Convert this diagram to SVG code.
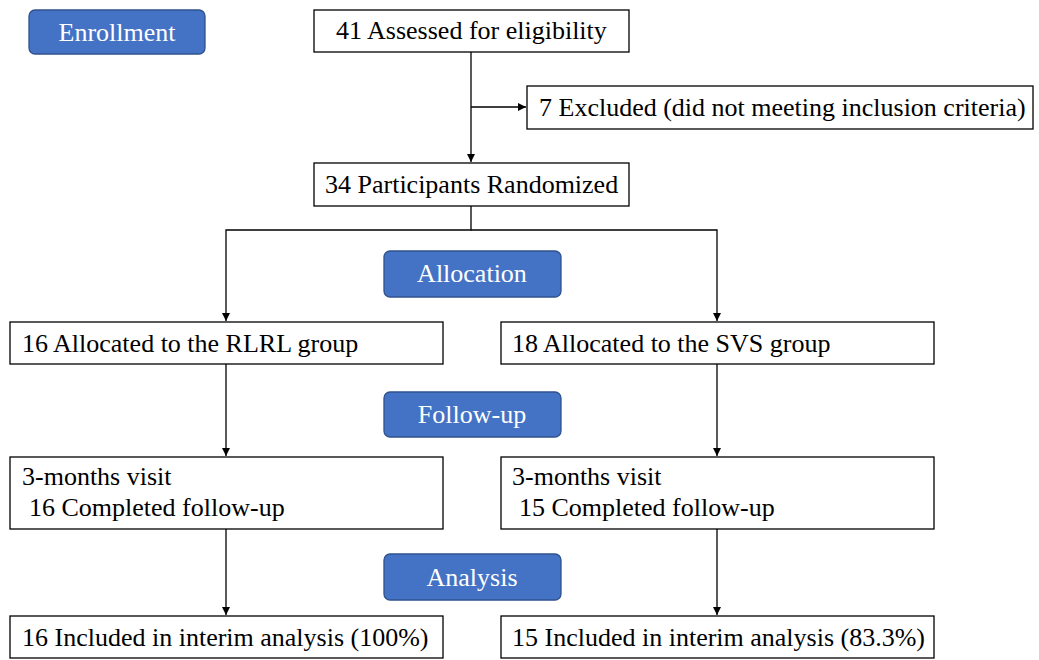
<svg xmlns="http://www.w3.org/2000/svg" width="1039" height="660" viewBox="0 0 1039 660">
<defs>
<marker id="arr" viewBox="0 0 10 10" refX="10" refY="5" markerWidth="8" markerHeight="8" markerUnits="userSpaceOnUse" orient="auto">
<path d="M0,0 L10,5 L0,10 z" fill="#000"/>
</marker>
<style>
.box{fill:#fff;stroke:#000;stroke-width:1.3}
.lab{fill:#4472C4;stroke:#2F528F;stroke-width:1.3}
.t{font-family:'Liberation Serif','Times New Roman',serif;font-size:26px;fill:#000}
.w{font-family:'Liberation Serif','Times New Roman',serif;font-size:26px;fill:#fff;text-anchor:middle}
.c{fill:none;stroke:#000;stroke-width:1.3}
</style>
</defs>
<rect width="1039" height="660" fill="#fff"/>
<g id="connectors">
<path class="c" d="M471,52 V162" marker-end="url(#arr)"/>
<path class="c" d="M471,107 H526" marker-end="url(#arr)"/>
<path class="c" d="M471,206 V230 H226 V321"  marker-end="url(#arr)"/>
<path class="c" d="M471,230 H717 V321" marker-end="url(#arr)"/>
<path class="c" d="M226,364 V456" marker-end="url(#arr)"/>
<path class="c" d="M717,364 V456" marker-end="url(#arr)"/>
<path class="c" d="M226,529 V615" marker-end="url(#arr)"/>
<path class="c" d="M717,529 V615" marker-end="url(#arr)"/>
</g>
<g id="enrollment"><rect class="lab" x="29" y="10" width="176" height="44" rx="6"/><text class="w" x="117" y="41">Enrollment</text></g>
<g id="assessed"><rect class="box" x="314" y="10" width="315" height="42"/><text class="t" x="336" y="39">41 Assessed for eligibility</text></g>
<g id="excluded"><rect class="box" x="527" y="86" width="506" height="43"/><text class="t" x="539" y="116">7 Excluded (did not meeting inclusion criteria)</text></g>
<g id="randomized"><rect class="box" x="314" y="163" width="315" height="43"/><text class="t" x="325" y="193">34 Participants Randomized</text></g>
<g id="allocation"><rect class="lab" x="384" y="251" width="177" height="46" rx="6"/><text class="w" x="472" y="282">Allocation</text></g>
<g id="rlrl"><rect class="box" x="10" y="322" width="433" height="42"/><text class="t" x="22" y="352">16 Allocated to the RLRL group</text></g>
<g id="svs"><rect class="box" x="501" y="322" width="433" height="42"/><text class="t" x="512" y="352">18 Allocated to the SVS group</text></g>
<g id="followup"><rect class="lab" x="384" y="392" width="177" height="45" rx="6"/><text class="w" x="472" y="423">Follow-up</text></g>
<g id="visit-left"><rect class="box" x="10" y="457" width="433" height="72"/><text class="t" x="22" y="485">3-months visit</text><text class="t" x="29" y="516">16 Completed follow-up</text></g>
<g id="visit-right"><rect class="box" x="501" y="457" width="433" height="72"/><text class="t" x="512" y="485">3-months visit</text><text class="t" x="519" y="516">15 Completed follow-up</text></g>
<g id="analysis"><rect class="lab" x="384" y="554" width="177" height="46" rx="6"/><text class="w" x="472" y="586">Analysis</text></g>
<g id="included-left"><rect class="box" x="10" y="616" width="433" height="42"/><text class="t" x="22" y="646">16 Included in interim analysis (100%)</text></g>
<g id="included-right"><rect class="box" x="501" y="616" width="433" height="42"/><text class="t" x="512" y="646">15 Included in interim analysis (83.3%)</text></g>
</svg>
